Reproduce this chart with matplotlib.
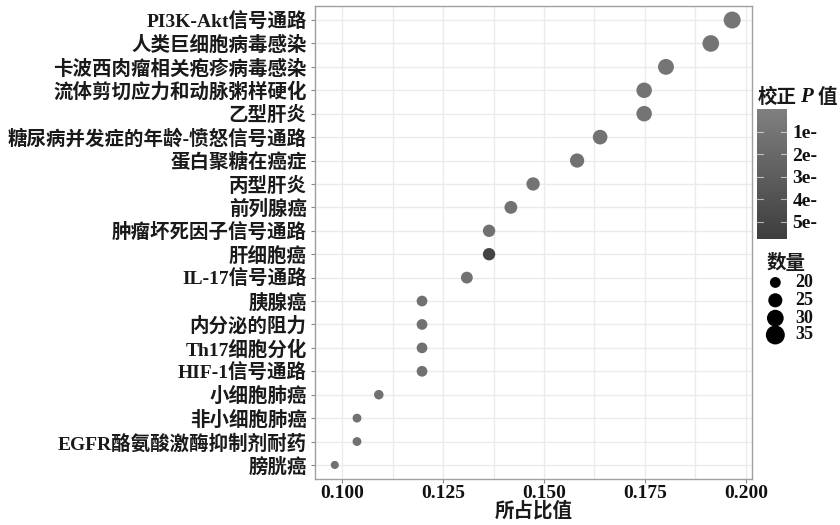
import matplotlib
matplotlib.use("Agg")
import matplotlib.pyplot as plt
import numpy as np
from matplotlib.colors import LinearSegmentedColormap, Normalize

# ---- data ----
pathways = [
    "PI3K-Akt信号通路", "人类巨细胞病毒感染", "卡波西肉瘤相关疱疹病毒感染",
    "流体剪切应力和动脉粥样硬化", "乙型肝炎", "糖尿病并发症的年龄-愤怒信号通路",
    "蛋白聚糖在癌症", "丙型肝炎", "前列腺癌", "肿瘤坏死因子信号通路", "肝细胞癌",
    "IL-17信号通路", "胰腺癌", "内分泌的阻力", "Th17细胞分化", "HIF-1信号通路",
    "小细胞肺癌", "非小细胞肺癌", "EGFR酪氨酸激酶抑制剂耐药", "膀胱癌",
]
ratio = [0.1966, 0.1913, 0.1802, 0.1748, 0.1748, 0.1639, 0.1582, 0.1473, 0.1418,
         0.1364, 0.1364, 0.1309, 0.1198, 0.1198, 0.1198, 0.1198, 0.1091, 0.1037,
         0.1037, 0.0982]
count = [36, 35, 33, 32, 32, 30, 29, 27, 26, 25, 25, 24, 22, 22, 22, 22, 20, 19, 19, 18]
padj = [1.0, 1.1, 1.0, 1.1, 1.1, 1.2, 1.2, 1.1, 1.2, 1.3, 5.3, 1.2, 1.3, 1.3,
        1.3, 1.3, 1.3, 1.3, 1.3, 1.3]  # in units of 1e-?
cbar_ticks = [1, 2, 3, 4, 5]
cbar_labels = ["1e-", "2e-", "3e-", "4e-", "5e-"]
size_breaks = [20, 25, 30, 35]
xticks = [0.100, 0.125, 0.150, 0.175, 0.200]

FAM = ["Liberation Serif", "Noto Sans CJK SC", "DejaVu Sans"]
plt.rcParams["font.family"] = FAM

cmap = LinearSegmentedColormap.from_list("g", ["#808080", "#3e3e3e"])
norm = Normalize(vmin=0.0, vmax=5.76)

def msize(c):
    return 34 + (np.asarray(c, dtype=float) - 18) * (116 / 18)

fig = plt.figure(figsize=(8.4, 5.25), dpi=100)
ax = fig.add_axes([0.375, 0.0876, 0.5202, 0.901])

n = len(pathways)
ypos = np.arange(n)[::-1]
ax.scatter(ratio, ypos, s=msize(count), c=[cmap(norm(v)) for v in padj],
           edgecolors="none", zorder=3)

ax.set_ylim(-0.6, n - 1 + 0.6)
ax.set_xlim(0.0933, 0.2015)
ax.set_yticks(ypos)
ax.set_yticklabels(pathways, fontsize=14, fontweight="bold", color="#1a1a1a")
ax.set_xticks(xticks)
ax.set_xticklabels([f"{t:.3f}" for t in xticks], fontsize=14,
                   fontweight="bold", color="#111111")
ax.set_xticks([0.1125, 0.1375, 0.1625, 0.1875], minor=True)
ax.grid(True, which="both", color="#ebebeb", linewidth=1.0, zorder=0)
ax.tick_params(axis="both", which="major", length=3, color="#888888", pad=3)
ax.tick_params(axis="x", which="major", pad=1.5)
ax.tick_params(axis="x", which="minor", length=0)
for sp in ax.spines.values():
    sp.set_color("#a0a0a0")
    sp.set_linewidth(1.0)
ax.set_xlabel("所占比值", fontsize=14, fontweight="bold", labelpad=-1, color="#1a1a1a")

# ---- colour bar legend ----
cax = fig.add_axes([0.9012, 0.5448, 0.0357, 0.2476])
grad = np.linspace(0, 5.76, 256).reshape(-1, 1)
cax.imshow(grad, aspect="auto", cmap=cmap, norm=norm,
           extent=[0, 1, 5.76, 0], origin="upper")
cax.set_ylim(5.76, 0)
cax.set_xlim(0, 1)
cax.set_xticks([])
cax.yaxis.tick_right()
cax.set_yticks(cbar_ticks)
cax.set_yticklabels(cbar_labels, fontsize=14, fontweight="bold", color="#111111")
cax.tick_params(axis="y", length=0, pad=4)
for t in cbar_ticks:
    cax.plot([0, 0.2], [t, t], color="white", lw=0.8, alpha=0.6)
    cax.plot([0.8, 1], [t, t], color="white", lw=0.8, alpha=0.6)
for sp in cax.spines.values():
    sp.set_visible(False)
fig.text(0.902, 0.815, "校正", fontsize=14, fontweight="bold", ha="left",
         va="center", color="#1a1a1a")
fig.text(0.952, 0.815, "P", fontsize=15, ha="left", va="center",
         fontstyle="italic", fontweight="bold", color="#111111")
fig.text(0.973, 0.815, "值", fontsize=14, fontweight="bold", ha="left",
         va="center", color="#1a1a1a")

# ---- size legend ----
fig.text(0.913, 0.499, "数量", fontsize=14, fontweight="bold", ha="left",
         va="center", color="#1a1a1a")
leg_y = [0.462, 0.428, 0.394, 0.362]
sax = fig.add_axes([0.905, 0.33, 0.09, 0.155])
sax.set_xlim(0, 1)
sax.set_ylim(0.33, 0.485)
sax.axis("off")
sax.scatter([0.2] * len(size_breaks), leg_y, s=msize(size_breaks) * 1.3, c="black",
            edgecolors="none")
for b, yy in zip(size_breaks, leg_y):
    sax.text(0.46, yy, str(b), fontsize=13, fontweight="bold", va="center",
             ha="left", color="#111111")

fig.savefig("out.png", dpi=100, facecolor="white")
